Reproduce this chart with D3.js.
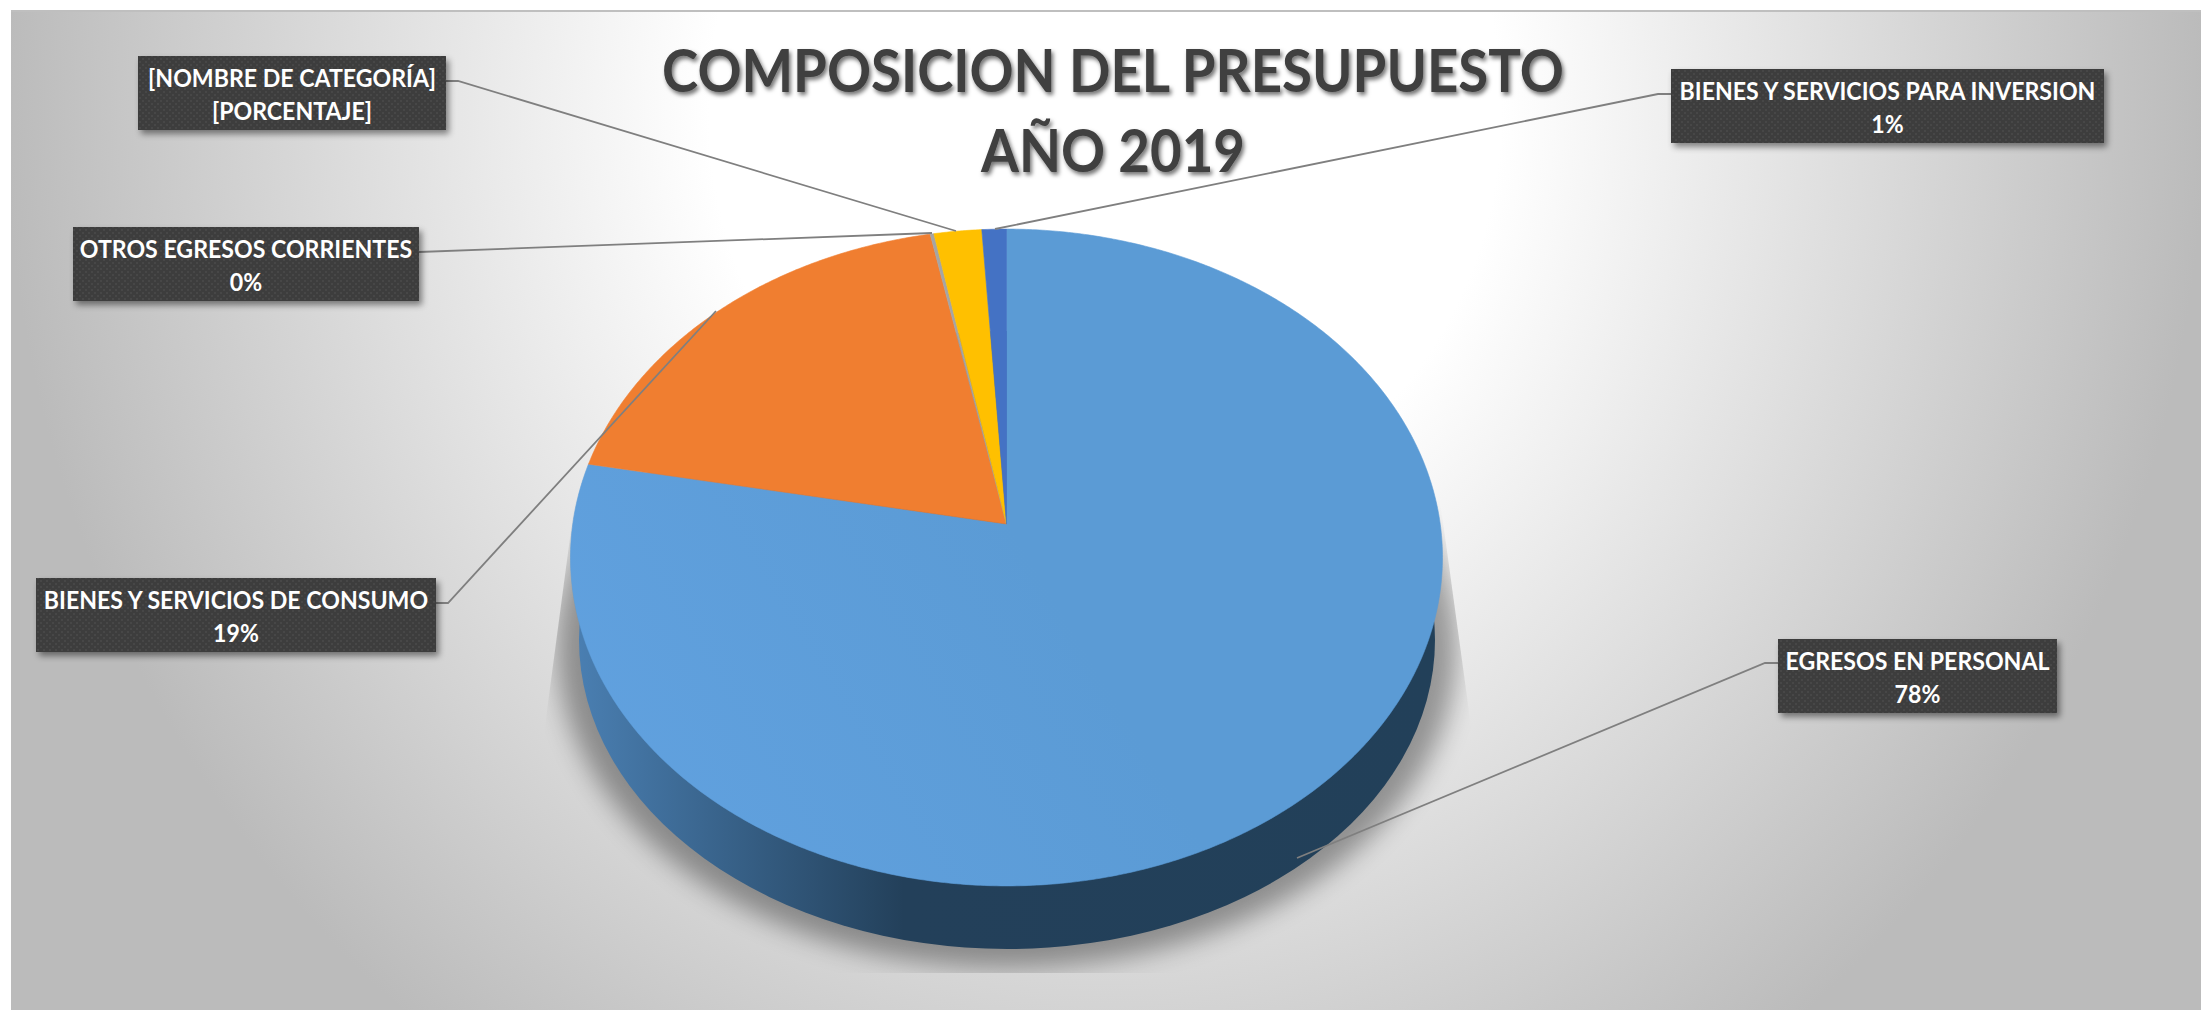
<!DOCTYPE html>
<html>
<head>
<meta charset="utf-8">
<script src="https://cdn.jsdelivr.net/npm/d3@7"></script>
<style>
  html, body { margin: 0; padding: 0; background: #fff; overflow: hidden; }
  svg { display: block; }
  text { font-family: Lato, "Open Sans", sans-serif; font-weight: 700; }
</style>
</head>
<body>
<div id="chart"></div>
<script>
// values, clockwise from 12 o'clock
const categories = ['EGRESOS EN PERSONAL', 'BIENES Y SERVICIOS DE CONSUMO', 'OTROS EGRESOS CORRIENTES', '[NOMBRE DE CATEGORÍA]', 'BIENES Y SERVICIOS PARA INVERSION'];
const values = [78.0, 18.9, 0.15, 1.95, 1.0];
const valueLabels = ['78%', '19%', '0%', '[PORCENTAJE]', '1%'];
const sliceColors = ['#5b9bd5', '#f07e30', '#a5a5a5', '#ffc000', '#4472c4'];
const titleLines = ['COMPOSICION DEL PRESUPUESTO', 'AÑO 2019'];

// label boxes [x, y, w, h] and their leader lines, same order as categories
const labelBoxes = [[1778, 639, 279, 74], [36, 578, 400, 74], [73, 227, 346, 74], [138, 56, 308, 74], [1671, 69, 433, 74]];
const leaders = [
  [[1778, 663], [1765, 663], [1297, 858]],
  [[436, 603], [448, 603], [716, 311]],
  [[419, 252], [932, 233]],
  [[446, 81], [458, 81], [956, 231]],
  [[1671, 94], [1658, 94], [995, 229]]
];

const width = 2201;
const height = 1010;

const svg = d3.select('#chart').append('svg')
  .attr('width', width).attr('height', height);
const defs = svg.append('defs');

// background
const bg = defs.append('radialGradient').attr('id', 'bg')
  .attr('gradientUnits', 'userSpaceOnUse')
  .attr('cx', 0).attr('cy', 0).attr('r', 1)
  .attr('gradientTransform', 'translate(1105,110) scale(1100,1170)');
bg.append('stop').attr('offset', '36%').attr('stop-color', '#ffffff');
bg.append('stop').attr('offset', '112%').attr('stop-color', '#bbbbbb');

svg.append('rect').attr('x', 11).attr('y', 10)
  .attr('width', width - 11).attr('height', height - 10)
  .attr('fill', 'url(#bg)');
svg.append('rect').attr('x', 11).attr('y', 10)
  .attr('width', width - 11).attr('height', 2)
  .attr('fill', '#bfbfbf');

// filters
const blur = defs.append('filter').attr('id', 'pieShadow')
  .attr('x', '-20%').attr('y', '-20%').attr('width', '140%').attr('height', '140%');
blur.append('feGaussianBlur').attr('stdDeviation', 13);

const boxShadow = defs.append('filter').attr('id', 'boxShadow')
  .attr('x', '-10%').attr('y', '-20%').attr('width', '120%').attr('height', '150%');
boxShadow.append('feDropShadow').attr('dx', 3).attr('dy', 4)
  .attr('stdDeviation', 3).attr('flood-color', '#000').attr('flood-opacity', 0.45);

const titleShadow = defs.append('filter').attr('id', 'titleShadow')
  .attr('x', '-5%').attr('y', '-20%').attr('width', '110%').attr('height', '150%');
titleShadow.append('feDropShadow').attr('dx', 2).attr('dy', 3)
  .attr('stdDeviation', 2).attr('flood-color', '#000').attr('flood-opacity', 0.55);

// dotted texture of the label boxes
const dots = defs.append('pattern').attr('id', 'dots')
  .attr('patternUnits', 'userSpaceOnUse').attr('width', 6).attr('height', 6);
dots.append('rect').attr('width', 6).attr('height', 6).attr('fill', '#3c3c3c');
dots.append('rect').attr('x', 1).attr('y', 1).attr('width', 2).attr('height', 2).attr('fill', '#474747');
dots.append('rect').attr('x', 4).attr('y', 4).attr('width', 2).attr('height', 2).attr('fill', '#474747');

// pie in perspective: circle -> projected plane
const apex = [1006.5, 524];
const k = 0.102;
const scaleX = 433.7;
const scaleY = 325;
const project = (a) => {
  const u = Math.sin(a);
  const v = -Math.cos(a);
  const w = 1 - k * v;
  return [apex[0] + scaleX * u / w, apex[1] + scaleY * v / w];
};

const line = d3.line();
const pie = d3.pie().sort(null).startAngle(0).endAngle(2 * Math.PI);
const arcs = pie(values);

const slicePath = (d) => {
  const n = Math.max(2, Math.ceil((d.endAngle - d.startAngle) * 120));
  const pts = d3.range(n + 1).map(i => project(d.startAngle + (d.endAngle - d.startAngle) * i / n));
  return line([apex, ...pts]) + 'Z';
};

// base of the pie
const baseCx = 1007;
const baseCy = 640;
const baseRx = 428;
const baseRy = 309;

// shadow cut off by a trapezoid, as the picture has it
defs.append('clipPath').attr('id', 'shadowClip').append('polygon')
  .attr('points', '575,500 1440,500 1472,733 1472,973 544,973 544,733');
svg.append('g').attr('clip-path', 'url(#shadowClip)')
  .append('ellipse')
  .attr('cx', baseCx).attr('cy', baseCy + 6)
  .attr('rx', baseRx + 22).attr('ry', baseRy + 13)
  .attr('fill', '#000').attr('opacity', 0.36)
  .attr('filter', 'url(#pieShadow)');

const rimGrad = defs.append('linearGradient').attr('id', 'rim')
  .attr('gradientUnits', 'userSpaceOnUse')
  .attr('x1', 575).attr('x2', 1440).attr('y1', 0).attr('y2', 0);
rimGrad.append('stop').attr('offset', '0%').attr('stop-color', '#4a7fb2');
rimGrad.append('stop').attr('offset', '38%').attr('stop-color', '#23405a');
rimGrad.append('stop').attr('offset', '100%').attr('stop-color', '#224059');

svg.append('ellipse')
  .attr('cx', baseCx).attr('cy', baseCy)
  .attr('rx', baseRx).attr('ry', baseRy)
  .attr('fill', 'url(#rim)');

// top face
svg.append('g').selectAll('path')
  .data(arcs)
  .join('path')
  .attr('d', slicePath)
  .attr('fill', (d, i) => sliceColors[i])
  .attr('stroke', (d, i) => sliceColors[i])
  .attr('stroke-width', 0.6);

// faint light from the lower left on the big slice
const sheen = defs.append('linearGradient').attr('id', 'sheen')
  .attr('gradientUnits', 'userSpaceOnUse')
  .attr('x1', 640).attr('y1', 800).attr('x2', 1300).attr('y2', 400);
sheen.append('stop').attr('offset', '0%').attr('stop-color', '#6aabf0').attr('stop-opacity', 0.35);
sheen.append('stop').attr('offset', '60%').attr('stop-color', '#6aabf0').attr('stop-opacity', 0);

svg.append('path')
  .attr('d', slicePath(arcs[0]))
  .attr('fill', 'url(#sheen)');

// leader lines
svg.append('g').selectAll('path')
  .data(leaders)
  .join('path')
  .attr('d', d => line(d))
  .attr('fill', 'none')
  .attr('stroke', '#7f7f7f')
  .attr('stroke-width', 1.8);

// label boxes
const labels = svg.append('g').selectAll('g')
  .data(categories)
  .join('g');

labels.append('rect')
  .attr('x', (d, i) => labelBoxes[i][0])
  .attr('y', (d, i) => labelBoxes[i][1])
  .attr('width', (d, i) => labelBoxes[i][2])
  .attr('height', (d, i) => labelBoxes[i][3])
  .attr('fill', 'url(#dots)')
  .attr('filter', 'url(#boxShadow)');

labels.append('text')
  .attr('x', (d, i) => labelBoxes[i][0] + labelBoxes[i][2] / 2)
  .attr('y', (d, i) => labelBoxes[i][1] + 30.5)
  .attr('text-anchor', 'middle')
  .attr('font-size', 25)
  .attr('fill', '#fff')
  .text(d => d);

labels.append('text')
  .attr('x', (d, i) => labelBoxes[i][0] + labelBoxes[i][2] / 2)
  .attr('y', (d, i) => labelBoxes[i][1] + 63.5)
  .attr('text-anchor', 'middle')
  .attr('font-size', 25)
  .attr('fill', '#fff')
  .text((d, i) => valueLabels[i]);

// title
const title = svg.append('g').selectAll('text')
  .data(titleLines)
  .join('text')
  .attr('x', 1113)
  .attr('y', (d, i) => 91.5 + i * 80)
  .attr('text-anchor', 'middle')
  .attr('font-size', 60)
  .attr('font-weight', 900)
  .attr('fill', '#404040')
  .attr('filter', 'url(#titleShadow)')
  .text(d => d);

// Calibri-like narrow text: squeeze the Lato glyphs a little
const squeeze = function (factor) {
  return function () {
    d3.select(this)
      .attr('textLength', this.getComputedTextLength() * factor)
      .attr('lengthAdjust', 'spacingAndGlyphs');
  };
};
labels.selectAll('text').each(squeeze(0.925));
title.each(squeeze(0.91));
</script>
</body>
</html>
